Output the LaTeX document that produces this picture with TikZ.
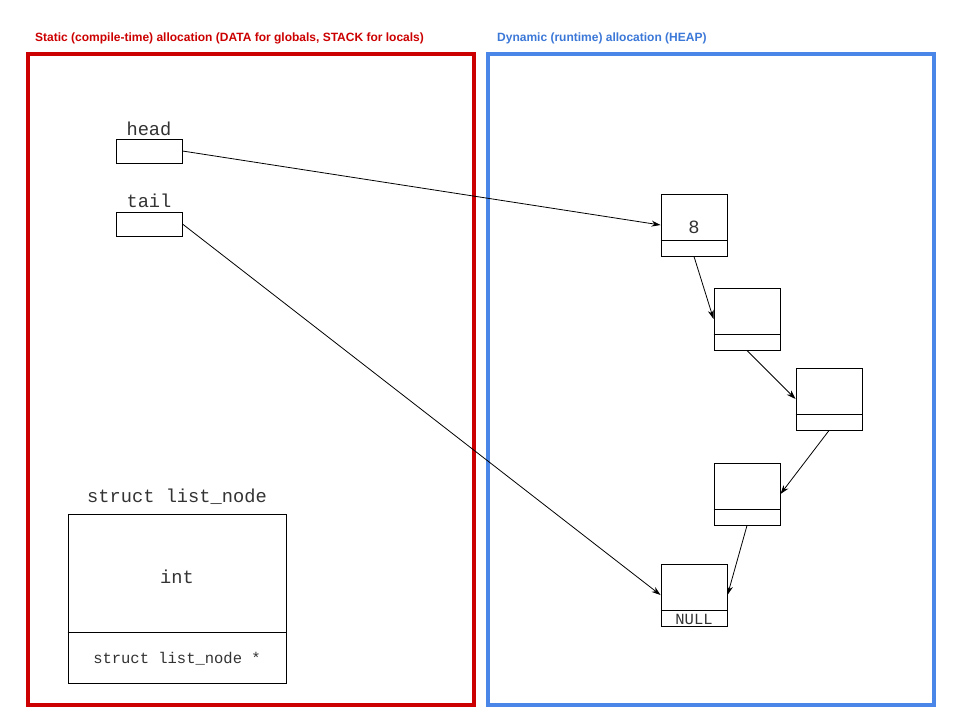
\documentclass[tikz,border=0pt]{standalone}
\usepackage{fontspec}
\setmainfont{Liberation Sans}
\setsansfont{Liberation Sans}
\setmonofont{Liberation Mono}
\usetikzlibrary{arrows.meta}
\definecolor{staticred}{HTML}{CC0000}
\definecolor{heapblue}{HTML}{4A86E8}
\definecolor{titleblue}{HTML}{3C78D8}
\definecolor{ink}{HTML}{333333}

\begin{document}
\begin{tikzpicture}[x=1pt,y=-1pt,
  region/.style={line width=4pt},
  title/.style={anchor=base west, inner sep=0pt,
    font=\fontsize{12}{14}\selectfont\sffamily\bfseries},
  ptrbox/.style={draw, line width=1pt, minimum width=66pt, minimum height=24pt, inner sep=0pt},
  cell/.style={draw, line width=1pt, minimum width=66pt, minimum height=62pt, inner sep=0pt},
  layout/.style={draw, line width=1pt, minimum width=218pt, minimum height=169pt, inner sep=0pt},
  code/.style={anchor=base, inner sep=0pt, text=ink,
    font=\fontsize{18.7}{20}\selectfont\ttfamily},
  smallcode/.style={anchor=base, inner sep=0pt, text=ink,
    font=\fontsize{15.5}{17}\selectfont\ttfamily},
  link/.style={line width=0.8pt, -{Stealth[length=9pt,width=6pt]}}
]
\useasboundingbox (0,0) rectangle (960,720);
\fill[white] (0,0) rectangle (960,720);

% the two memory regions
\draw[region, staticred] (28,54) rectangle (474,705);
\draw[region, heapblue] (488,54) rectangle (934,705);
\node[title, text=staticred] (statictitle) at (35,41)
  {Static (compile-time) allocation (DATA for globals, STACK for locals)};
\node[title, text=titleblue] (heaptitle) at (497,41)
  {Dynamic (runtime) allocation (HEAP)};

% global pointers
\node[code] (headlabel) at (149,135) {head};
\node[ptrbox] (head) at (149,151) {};
\node[code] (taillabel) at (149,207) {tail};
\node[ptrbox] (tail) at (149,224) {};

% layout of one list node
\node[code] (structlabel) at (177,502) {struct list\_node};
\node[layout] (layout) at (177,598.5) {};
\draw[line width=1pt] ([yshift=51pt]layout.south west) -- ([yshift=51pt]layout.south east);
\node[code] (intlabel) at (177,583) {int};
\node[smallcode] (nextlabel) at (177,663) {struct list\_node *};

% heap cells
\node[cell] (n1) at (694,225) {};
\node[cell] (n2) at (747,319) {};
\node[cell] (n3) at (829,399) {};
\node[cell] (n4) at (747,494) {};
\node[cell] (nl) at (694,595) {};
\foreach \c in {n1,n2,n3,n4,nl}
  \draw[line width=1pt] ([yshift=16pt]\c.south west) -- ([yshift=16pt]\c.south east);
\node[code] (val) at (694,233) {8};
\node[smallcode] (nulltext) at (694,624) {NULL};

% links
\draw[link] (head.east) -- (n1.west);
\draw[link] (tail.east) -- (nl.west);
\draw[link] (n1.south) -- (n2.west);
\draw[link] (n2.south) -- (n3.west);
\draw[link] (n3.south) -- (n4.east);
\draw[link] (n4.south) -- (nl.east);
\end{tikzpicture}
\end{document}
